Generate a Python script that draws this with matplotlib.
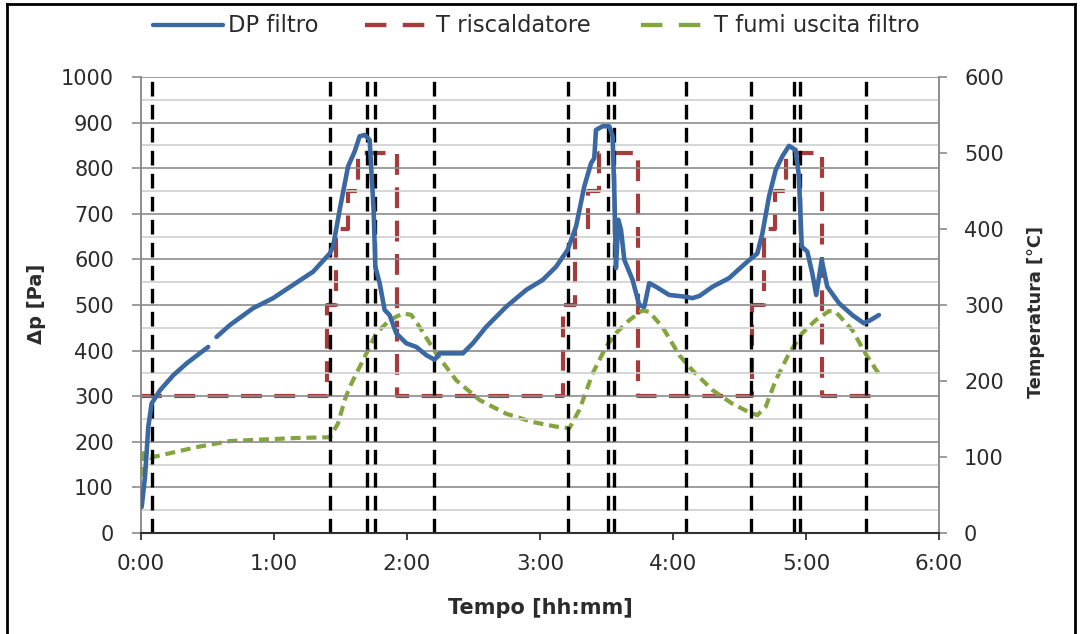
import matplotlib
matplotlib.use("Agg")
import matplotlib.pyplot as plt
import numpy as np
from matplotlib.lines import Line2D

# ---------------- data ----------------
dp_time = [0.005, 0.03, 0.055, 0.08, 0.143, 0.243, 0.343, 0.505, np.nan,
           0.568, 0.668, 0.843, 0.993, 1.143, 1.294, 1.419, 1.444, 1.494, 1.557,
           1.607, 1.644, 1.682, 1.719, 1.749, 1.762, 1.794, 1.832, 1.869, 1.919,
           1.995, 2.07, 2.145, 2.207, 2.245, 2.42, 2.495, 2.595, 2.745, 2.896,
           3.02, 3.121, 3.208, 3.271, 3.333, 3.384, 3.408, 3.421, 3.471, 3.521,
           3.546, 3.559, 3.571, 3.589, 3.609, 3.634, 3.696, 3.746, 3.784, 3.821,
           3.872, 3.971, 4.097, 4.146, 4.2, 4.297, 4.422, 4.547, 4.634, 4.672,
           4.722, 4.772, 4.822, 4.872, 4.922, 4.947, 4.968, 5.01, 5.047, 5.077,
           5.118, 5.16, 5.248, 5.348, 5.435, 5.486, 5.548]
dp_pa = [57, 123, 233, 284, 313, 346, 372, 408, np.nan,
         430, 456, 493, 515, 544, 573, 613, 628, 709, 804,
         837, 870, 873, 862, 709, 584, 548, 489, 478, 438,
         416, 408, 390, 380, 394, 394, 416, 452, 496, 533,
         555, 584, 621, 672, 760, 811, 822, 884, 892, 892,
         870, 745, 581, 687, 665, 599, 555, 500, 496, 548,
         540, 522, 518, 515, 520, 540, 559, 592, 613, 657,
         738, 796, 826, 849, 840, 782, 628, 617, 570, 522,
         599, 540, 504, 478, 460, 467, 478]

heater_time = [0, 1.399, 1.469, 1.556, 1.631, 1.926,
               3.171, 3.264, 3.358, 3.446, 3.734,
               4.597, 4.685, 4.765, 4.848, 5.122, 5.573]
heater_temp = [180, 300, 400, 450, 500, 180,
               300, 400, 450, 500, 180,
               300, 400, 450, 500, 180, 180]

fumi_time = [0.005, 0.017, 0.068, 0.218, 0.418, 0.668, 0.918, 1.169, 1.419,
             1.481, 1.532, 1.569, 1.594, 1.694, 1.769, 1.869, 1.969, 2.032,
             2.095, 2.22, 2.37, 2.545, 2.745, 2.945, 3.121, 3.221, 3.296,
             3.396, 3.496, 3.571, 3.671, 3.771, 3.821, 3.921, 4.047, 4.146,
             4.297, 4.447, 4.572, 4.634, 4.697, 4.772, 4.872, 4.972, 5.073,
             5.173, 5.223, 5.348, 5.448, 5.56]
fumi_temp = [74, 105, 99, 105, 113, 121, 123, 125, 126,
             144, 175, 192, 201, 236, 263, 280, 289, 287,
             271, 236, 201, 175, 157, 146, 140, 138, 162,
             210, 245, 263, 280, 293, 291, 271, 234, 214,
             188, 170, 159, 155, 166, 201, 236, 263, 280,
             292, 291, 267, 236, 206]

event_times = [0.085, 1.419, 1.699, 1.762, 2.202, 3.208, 3.514, 3.559,
               4.101, 4.589, 4.910, 4.953, 5.453]

x_ticks = [0, 1, 2, 3, 4, 5, 6]
x_labels = ["0:00", "1:00", "2:00", "3:00", "4:00", "5:00", "6:00"]
dp_ticks = list(range(0, 1001, 100))
t_ticks = list(range(0, 601, 100))
series_names = ['DP filtro', 'T riscaldatore', 'T fumi uscita filtro']

# ---------------- style ----------------
plt.rcParams['font.family'] = ['DejaVu Sans']
BLUE = '#3a68a2'
RED = '#a63b3b'
GREEN = '#84a43e'
TXT = '#2b2b2b'
W, H = 1081, 634

fig = plt.figure(figsize=(W / 100, H / 100), dpi=100)
ax = fig.add_axes([141 / W, 1 - 533 / H, (939 - 141) / W, (533 - 77) / H])
ax2 = ax.twinx()

ax.set_xlim(0, 6)
ax.set_ylim(0, 1000)
ax2.set_ylim(0, 600)

# grid lines
for v in np.arange(50, 1000, 100):
    ax.axhline(v, color='#d0d0d0', lw=1.2, zorder=0.5)
for v in range(100, 1001, 100):
    ax.axhline(v, color='#8c8c8c', lw=1.2, zorder=0.6)

# event lines
for t in event_times:
    ax.axvline(t, color='black', lw=2.4, dashes=(4.4, 2.5), zorder=1.5)

ax.plot(dp_time, dp_pa, color=BLUE, lw=3.3, zorder=3, solid_capstyle='round')
ax2.step(heater_time, heater_temp, where='post', color=RED, lw=3.0,
         dashes=(5.0, 3.0), zorder=3)
ax2.plot(fumi_time, fumi_temp, color=GREEN, lw=3.0, dashes=(2.4, 1.4), zorder=3)

ax.set_zorder(ax2.get_zorder() + 1)
ax.patch.set_visible(False)

ax.set_xticks(x_ticks)
ax.set_xticklabels(x_labels)
ax.set_yticks(dp_ticks)
ax2.set_yticks(t_ticks)

for a in (ax, ax2):
    for s in a.spines.values():
        s.set_color('#8c8c8c')
        s.set_linewidth(1.2)
    a.spines['top'].set_visible(False)
ax.spines['bottom'].set_color('#303030')
ax.spines['bottom'].set_linewidth(1.5)
ax2.spines['bottom'].set_visible(False)

ax.tick_params(axis='y', direction='out', length=6.5, width=1.2, color='#8c8c8c',
               labelsize=15, labelcolor=TXT, pad=13)
ax2.tick_params(axis='y', direction='out', length=6, width=1.2, color='#8c8c8c',
                labelsize=15, labelcolor=TXT, pad=12)
ax.tick_params(axis='x', direction='out', length=5, width=1.3, color='#303030',
               labelsize=15.5, labelcolor=TXT, pad=10)

# axis titles
fig.text(36 / W, 1 - 304 / H, 'Δp [Pa]', rotation=90, ha='center', va='center',
         fontsize=14, fontweight='bold', color=TXT)
fig.text(1036 / W, 1 - 312 / H, 'Temperatura [°C]', rotation=90, ha='center',
         va='center', fontsize=12.8, fontweight='bold', color=TXT)
fig.text(540 / W, 1 - 608 / H, 'Tempo [hh:mm]', ha='center', va='center',
         fontsize=15, fontweight='bold', color=TXT)

# legend (drawn manually at the reference positions)
ly = 1 - 25 / H
leg = [(153, 223, 228, BLUE, '-'),
       (358, 429, 436, RED, (7.2, (5.0, 3.8))),
       (634, 705, 714, GREEN, (7.2, (5.0, 3.8)))]
for (x0, x1, xt, col, ls), name in zip(leg, series_names):
    fig.add_artist(Line2D([x0 / W, x1 / W], [ly, ly], transform=fig.transFigure,
                          color=col, lw=3.1, linestyle=ls,
                          solid_capstyle='round', dash_capstyle='butt'))
    fig.text(xt / W, ly, name, ha='left', va='center', fontsize=16.3, color=TXT)

# outer frame (left, top, right)
fl, fr, ft = 6.5 / W, 1 - 6.5 / W, 1 - 3.5 / H
fig.add_artist(Line2D([fl, fl], [0, ft], transform=fig.transFigure, color='black', lw=2))
fig.add_artist(Line2D([fl, fr], [ft, ft], transform=fig.transFigure, color='black', lw=2))
fig.add_artist(Line2D([fr, fr], [0, ft], transform=fig.transFigure, color='black', lw=2))

fig.savefig('out.png', dpi=100)
